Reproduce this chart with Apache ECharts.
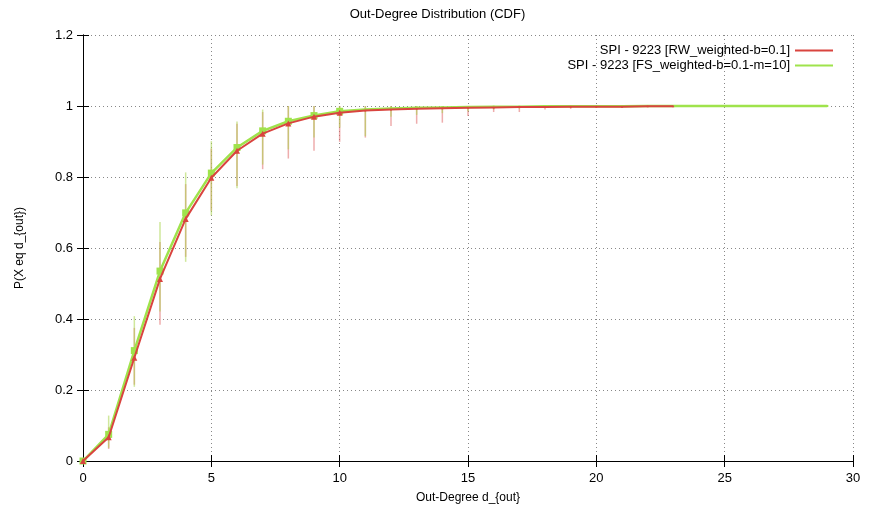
<!DOCTYPE html>
<html>
<head>
<meta charset="utf-8">
<script src="https://cdn.jsdelivr.net/npm/echarts@6/dist/echarts.min.js"></script>
<style>
  body { margin: 0; background: #fff; }
  #chart { width: 875px; height: 509px; }
</style>
</head>
<body>
<div id="chart"></div>
<script>
// RW_weighted-b=0.1 (red)
var rwX = [0, 1, 2, 3, 4, 5, 6, 7, 8, 9, 10, 11, 12, 13, 14, 15, 16, 17, 18, 19, 20, 21, 22, 23];
var rwY = [0, 0.067, 0.291, 0.513, 0.682, 0.798, 0.874, 0.922, 0.951, 0.970, 0.981, 0.987, 0.990, 0.992, 0.994, 0.995, 0.996, 0.997, 0.997, 0.998, 0.998, 0.998, 0.999, 0.999];
var rwLo = [0, 0.034, 0.215, 0.384, 0.575, 0.705, 0.775, 0.822, 0.852, 0.874, 0.899, 0.911, 0.944, 0.950, 0.953, 0.972, 0.983, 0.983, 0.990, 0.992, 0.995, 0.996, 0.997, 0.998];
var rwHi = [0, 0.095, 0.375, 0.617, 0.780, 0.880, 0.950, 0.983, 1, 1, 1, 1, 1, 1, 1, 1, 1, 1, 1, 1, 1, 1, 1, 1];

// FS_weighted-b=0.1-m=10 (green)
var fsX = [0, 1, 2, 3, 4, 5, 6, 7, 8, 9, 10, 11, 12, 13, 14, 15, 16, 17, 18, 19, 20, 21, 22, 23, 24, 25, 26, 27, 28, 29];
var fsY = [0, 0.075, 0.311, 0.535, 0.699, 0.811, 0.883, 0.930, 0.957, 0.973, 0.985, 0.990, 0.993, 0.995, 0.996, 0.997, 0.998, 0.998, 0.999, 0.999, 0.999, 0.999, 1, 1, 1, 1, 1, 1, 1, 1];
var fsLo = [0, 0.037, 0.209, 0.421, 0.561, 0.692, 0.768, 0.835, 0.878, 0.911, 0.939, 0.915, 0.970, 0.975, 0.980, 0.985, 0.990, 0.992, 0.995, 0.996, 0.997, 0.998, 0.999, 0.999, 1, 1, 1, 1, 1, 1];
var fsHi = [0, 0.128, 0.408, 0.673, 0.813, 0.901, 0.956, 0.990, 1, 1, 1, 1, 1, 1, 1, 1, 1, 1, 1, 1, 1, 1, 1, 1, 1, 1, 1, 1, 1, 1];

var xTicks = [0, 5, 10, 15, 20, 25, 30];
var yTicks = [0, 0.2, 0.4, 0.6, 0.8, 1, 1.2];

var rwName = "SPI - 9223 [RW_weighted-b=0.1]";
var fsName = "SPI - 9223 [FS_weighted-b=0.1-m=10]";
var red = "#d9443f";
var green = "#9fe34c";
var font = "Liberation Sans, Arial, sans-serif";

function pairs(xs, ys) {
  return xs.map(function (x, i) { return [x, ys[i]]; });
}
function bars(xs, lo, hi) {
  return xs.map(function (x, i) { return [x, lo[i], hi[i]]; });
}
function errorBar(color) {
  return function (params, api) {
    var p1 = api.coord([api.value(0), api.value(1)]);
    var p2 = api.coord([api.value(0), api.value(2)]);
    return {
      type: "line",
      shape: { x1: p1[0], y1: p1[1], x2: p2[0], y2: p2[1] },
      style: { stroke: color, lineWidth: 1.5, opacity: 0.55 },
    };
  };
}
// points get lost under the line once the curve flattens out
function markSize(big) {
  return function (v) { return v[0] <= 10 ? big : 2; };
}

var myChart = echarts.init(document.getElementById("chart"));

var axisCommon = {
  axisLine: { show: true, lineStyle: { color: "#000", width: 1 } },
  axisTick: { show: true, inside: true, length: 6, lineStyle: { color: "#000" } },
};

var option = {
  animation: false,
  backgroundColor: "#fff",
  title: {
    text: "Out-Degree Distribution (CDF)",
    left: "center",
    top: 3,
    textStyle: { fontFamily: font, fontSize: 13, fontWeight: "normal", color: "#000" },
  },
  legend: {
    data: [rwName, fsName],
    orient: "vertical",
    right: 37,
    top: 39,
    align: "right",
    icon: "rect",
    itemWidth: 38,
    itemHeight: 2,
    itemGap: 2,
    textStyle: { fontFamily: font, fontSize: 13, color: "#000" },
  },
  grid: { left: 83, right: 22, top: 35, bottom: 45 },
  xAxis: [
    Object.assign({}, axisCommon, {
      type: "value",
      min: 0,
      max: 30,
      interval: 5,
      name: "Out-Degree d_{out}",
      nameLocation: "middle",
      nameGap: 31,
      nameTextStyle: { fontFamily: font, fontSize: 12, color: "#000" },
      axisLabel: {
        fontFamily: font, fontSize: 13, color: "#000", margin: 11,
        customValues: xTicks,
      },
      splitLine: { show: true, lineStyle: { color: "#888", type: [1, 3], width: 1 } },
    }),
    Object.assign({}, axisCommon, {
      type: "value",
      position: "top",
      min: 0,
      max: 30,
      interval: 5,
      axisLabel: { show: false },
      splitLine: { show: false },
    }),
  ],
  yAxis: [
    Object.assign({}, axisCommon, {
      type: "value",
      min: 0,
      max: 1.2,
      interval: 0.2,
      name: "P(X eq d_{out})",
      nameLocation: "middle",
      nameGap: 57,
      nameTextStyle: { fontFamily: font, fontSize: 12, color: "#000" },
      axisLabel: {
        fontFamily: font, fontSize: 13, color: "#000", margin: 10,
        customValues: yTicks,
      },
      splitLine: { show: true, lineStyle: { color: "#888", type: [1, 3], width: 1 } },
    }),
    Object.assign({}, axisCommon, {
      type: "value",
      position: "right",
      min: 0,
      max: 1.2,
      interval: 0.2,
      axisLabel: { show: false },
      splitLine: { show: false },
    }),
  ],
  series: [
    {
      name: "rwErr",
      type: "custom",
      renderItem: errorBar("#e06a6a"),
      data: bars(rwX, rwLo, rwHi),
      z: 2,
      silent: true,
    },
    {
      name: "fsErr",
      type: "custom",
      renderItem: errorBar("#a9d64a"),
      data: bars(fsX, fsLo, fsHi),
      z: 3,
      silent: true,
    },
    {
      name: fsName,
      type: "line",
      data: pairs(fsX, fsY),
      color: green,
      lineStyle: { width: 2.5, color: green },
      symbol: "rect",
      symbolSize: markSize(7),
      showSymbol: true,
      itemStyle: { color: green },
      z: 4,
    },
    {
      name: rwName,
      type: "line",
      data: pairs(rwX, rwY),
      color: red,
      lineStyle: { width: 2, color: red },
      symbol: "triangle",
      symbolSize: markSize(6),
      showSymbol: true,
      itemStyle: { color: red },
      z: 5,
    },
  ],
};

myChart.setOption(option);
window.addEventListener("resize", function () {
  myChart.resize();
});
</script>
</body>
</html>
